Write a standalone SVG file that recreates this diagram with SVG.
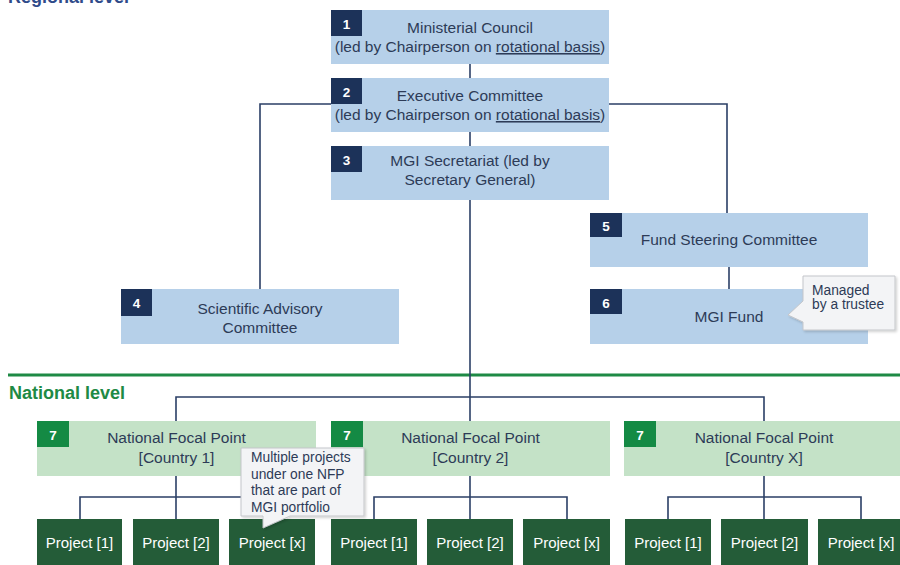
<svg xmlns="http://www.w3.org/2000/svg" width="900" height="565" viewBox="0 0 900 565">
<defs>
<style>
.box{fill:#b6d0e9}
.nfp{fill:#c4e2c7}
.badge{fill:#1c3259}
.gbadge{fill:#148a44}
.proj{fill:#245c38}
text{font-family:"Liberation Sans",Arial,sans-serif}
.t{font-size:15.5px;fill:#2d3b57;text-anchor:middle}
.num{font-size:13.5px;font-weight:bold;fill:#ffffff;text-anchor:middle}
.pt{font-size:15px;fill:#ffffff;text-anchor:middle}
.ct{font-size:13.8px;fill:#2d3b57}
.conn{stroke:#2b3f66;stroke-width:1.6;fill:none}
.callout{fill:#f3f4f6;stroke:#c4c6ca;stroke-width:1}
.head{font-size:18px;font-weight:bold}
</style>
<filter id="sh" x="-10%" y="-10%" width="130%" height="130%">
<feDropShadow dx="1.5" dy="1.5" stdDeviation="1" flood-color="#000000" flood-opacity="0.18"/>
</filter>
</defs>
<rect width="900" height="565" fill="#ffffff"/>

<text class="head" x="8" y="3" fill="#2f4b8a">Regional level</text>
<line x1="8" y1="375" x2="900" y2="375" stroke="#1e8a45" stroke-width="3"/>
<text class="head" x="9" y="399" fill="#1e8a45">National level</text>

<g id="connectors">
<line class="conn" x1="470" y1="64" x2="470" y2="78"/>
<line class="conn" x1="470" y1="132" x2="470" y2="146"/>
<polyline class="conn" points="260,290 260,104 727,104 727,213"/>
<line class="conn" x1="729" y1="267" x2="729" y2="290"/>
<line class="conn" x1="470" y1="200" x2="470" y2="421"/>
<polyline class="conn" points="176,421 176,397 764,397 764,421"/>
<line class="conn" x1="176" y1="476" x2="176" y2="519"/>
<polyline class="conn" points="80,519 80,497 272,497 272,519"/>
<line class="conn" x1="470" y1="476" x2="470" y2="519"/>
<polyline class="conn" points="374,519 374,497 567,497 567,519"/>
<line class="conn" x1="764" y1="476" x2="764" y2="519"/>
<polyline class="conn" points="668,519 668,497 861,497 861,519"/>
</g>

<g id="n1">
<rect class="box" x="331" y="10" width="278" height="54"/>
<rect class="badge" x="331" y="10" width="31" height="26"/>
<text class="num" x="346.5" y="29">1</text>
<text class="t" x="470" y="33">Ministerial Council</text>
<text class="t" x="470" y="52">(led by Chairperson on <tspan text-decoration="underline">rotational basis</tspan>)</text>
</g>
<g id="n2">
<rect class="box" x="331" y="78" width="278" height="54"/>
<rect class="badge" x="331" y="78" width="31" height="26"/>
<text class="num" x="346.5" y="97">2</text>
<text class="t" x="470" y="101">Executive Committee</text>
<text class="t" x="470" y="120">(led by Chairperson on <tspan text-decoration="underline">rotational basis</tspan>)</text>
</g>
<g id="n3">
<rect class="box" x="331" y="146" width="278" height="54"/>
<rect class="badge" x="331" y="146" width="31" height="26"/>
<text class="num" x="346.5" y="165">3</text>
<text class="t" x="470" y="166">MGI Secretariat (led by</text>
<text class="t" x="470" y="185">Secretary General)</text>
</g>
<g id="n4">
<rect class="box" x="121" y="289" width="278" height="55"/>
<rect class="badge" x="121" y="289" width="31" height="27"/>
<text class="num" x="136.5" y="308">4</text>
<text class="t" x="260" y="314">Scientific Advisory</text>
<text class="t" x="260" y="333">Committee</text>
</g>
<g id="n5">
<rect class="box" x="590" y="213" width="278" height="54"/>
<rect class="badge" x="590" y="213" width="32" height="24"/>
<text class="num" x="606" y="231">5</text>
<text class="t" x="729" y="245">Fund Steering Committee</text>
</g>
<g id="n6">
<rect class="box" x="590" y="289" width="278" height="55"/>
<rect class="badge" x="590" y="289" width="32" height="25"/>
<text class="num" x="606" y="308">6</text>
<text class="t" x="729" y="322">MGI Fund</text>
</g>
<g id="callout-trustee">
<path class="callout" filter="url(#sh)" d="M803,276 H895 V330 H803 V322 L788,315 L803,301 Z"/>
<text class="ct" x="812" y="295">Managed</text>
<text class="ct" x="812" y="309">by a trustee</text>
</g>

<g id="nfp1">
<rect class="nfp" x="37" y="421" width="279" height="55"/>
<rect class="gbadge" x="37" y="421" width="32" height="26"/>
<text class="num" x="53" y="440">7</text>
<text class="t" x="176.5" y="443">National Focal Point</text>
<text class="t" x="176.5" y="463">[Country 1]</text>
</g>
<g id="nfp2">
<rect class="nfp" x="331" y="421" width="279" height="55"/>
<rect class="gbadge" x="331" y="421" width="32" height="26"/>
<text class="num" x="347" y="440">7</text>
<text class="t" x="470.5" y="443">National Focal Point</text>
<text class="t" x="470.5" y="463">[Country 2]</text>
</g>
<g id="nfpx">
<rect class="nfp" x="624" y="421" width="279" height="55"/>
<rect class="gbadge" x="624" y="421" width="32" height="26"/>
<text class="num" x="640" y="440">7</text>
<text class="t" x="764" y="443">National Focal Point</text>
<text class="t" x="764" y="463">[Country X]</text>
</g>

<g id="p1-1"><rect class="proj" x="37" y="519" width="85" height="46"/><text class="pt" x="79.5" y="548">Project [1]</text></g>
<g id="p1-2"><rect class="proj" x="133" y="519" width="86" height="46"/><text class="pt" x="176" y="548">Project [2]</text></g>
<g id="p1-x"><rect class="proj" x="229" y="519" width="86" height="46"/><text class="pt" x="272" y="548">Project [x]</text></g>
<g id="p2-1"><rect class="proj" x="331" y="519" width="86" height="46"/><text class="pt" x="374" y="548">Project [1]</text></g>
<g id="p2-2"><rect class="proj" x="427" y="519" width="86" height="46"/><text class="pt" x="470" y="548">Project [2]</text></g>
<g id="p2-x"><rect class="proj" x="523" y="519" width="87" height="46"/><text class="pt" x="566.5" y="548">Project [x]</text></g>
<g id="px-1"><rect class="proj" x="625" y="519" width="86" height="46"/><text class="pt" x="668" y="548">Project [1]</text></g>
<g id="px-2"><rect class="proj" x="721" y="519" width="87" height="46"/><text class="pt" x="764.5" y="548">Project [2]</text></g>
<g id="px-x"><rect class="proj" x="818" y="519" width="86" height="46"/><text class="pt" x="861" y="548">Project [x]</text></g>

<g id="callout-projects">
<path class="callout" filter="url(#sh)" d="M241,448 H364 V516 H290 L263,528 V516 H241 Z"/>
<text class="ct" x="251" y="462">Multiple projects</text>
<text class="ct" x="251" y="478.5">under one NFP</text>
<text class="ct" x="251" y="495">that are part of</text>
<text class="ct" x="251" y="511.5">MGI portfolio</text>
</g>
</svg>
